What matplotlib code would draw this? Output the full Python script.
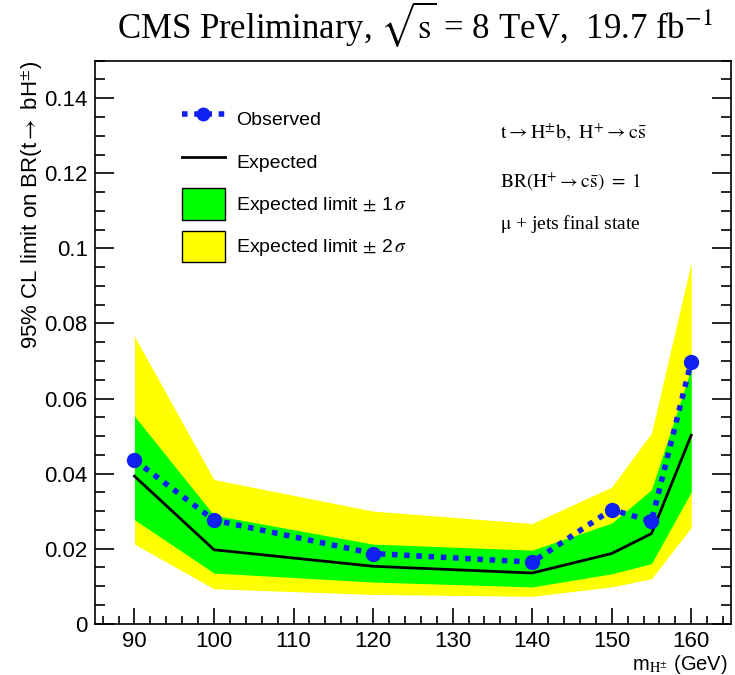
import matplotlib
matplotlib.use("Agg")
import matplotlib.pyplot as plt
from matplotlib.patches import Patch
from matplotlib.lines import Line2D
from matplotlib.ticker import MultipleLocator

plt.rcParams['mathtext.fontset'] = 'stix'

# charged Higgs mass points (GeV)
mass = [90, 100, 120, 140, 150, 155, 160]

# 95% CL upper limits on BR(t -> bH+-)
observed = [0.0436, 0.0276, 0.0187, 0.0164, 0.0304, 0.0273, 0.0698]
expected = [0.0393, 0.0197, 0.0153, 0.0135, 0.0187, 0.0240, 0.0502]
band1_lo = [0.0277, 0.0135, 0.0111, 0.0098, 0.0133, 0.0160, 0.0351]
band1_hi = [0.0553, 0.0289, 0.0212, 0.0196, 0.0268, 0.0357, 0.0680]
band2_lo = [0.0212, 0.0093, 0.0078, 0.0073, 0.0098, 0.0120, 0.0256]
band2_hi = [0.0766, 0.0384, 0.0300, 0.0267, 0.0364, 0.0508, 0.0963]

W, H = 735, 675
fig = plt.figure(figsize=(W / 100, H / 100), dpi=100)
ax = fig.add_axes([94.7 / W, 1 - 623.7 / H, (731 - 94.7) / W, (623.7 - 60.7) / H])

ax.fill_between(mass, band2_lo, band2_hi, color='#ffff00', lw=0)
ax.fill_between(mass, band1_lo, band1_hi, color='#00ff00', lw=0)
ax.plot(mass, expected, color='black', lw=2)
ax.plot(mass, observed, color='#1020f0', lw=4, ls=(0, (1, 1.2)),
        marker='o', ms=10, mec='#1020f0', mfc='#1020f0')

ax.set_xlim(85, 165)
ax.set_ylim(0, 0.15)
ax.xaxis.set_major_locator(MultipleLocator(10))
ax.xaxis.set_minor_locator(MultipleLocator(2))
ax.yaxis.set_minor_locator(MultipleLocator(0.005))
ax.set_yticks([0, 0.02, 0.04, 0.06, 0.08, 0.1, 0.12, 0.14])
ax.set_yticklabels(['0', '0.02', '0.04', '0.06', '0.08', '0.1', '0.12', '0.14'])

for sp in ax.spines.values():
    sp.set_linewidth(1.2)
ax.tick_params(axis='y', which='major', direction='in', length=14, width=1.2, right=True)
ax.tick_params(axis='y', which='minor', direction='in', length=7, width=1.2, right=True)
ax.tick_params(axis='x', which='major', direction='in', length=11.5, width=1.2, top=False)
ax.tick_params(axis='x', which='minor', direction='in', length=6, width=1.2, top=False)
ax.tick_params(axis='both', which='major', labelsize=16, pad=5)
for lab in ax.get_xticklabels() + ax.get_yticklabels():
    lab.set_fontfamily('Liberation Sans')

# titles
fig.text(415 / W, 1 - 38 / H,
         r'CMS Preliminary, $\sqrt{\mathrm{s}}$ = 8 TeV,  19.7 fb$^{\mathrm{-1}}$',
         ha='center', va='baseline', fontsize=25, family='Liberation Serif')
fig.text(32 / W, 1 - 61 / H, r'95% CL limit on BR(t$\rightarrow$ bH$^{\pm}$)',
         rotation=90, ha='center', va='top', fontsize=16, family='Liberation Sans')
fig.text(728 / W, 1 - 653 / H, r'm$_{\mathrm{H^{\pm}}}$ (GeV)',
         ha='right', va='top', fontsize=14.5, family='Liberation Sans')

# legend
handles = [
    Line2D([], [], color='#1020f0', lw=4, ls=(0, (1, 1.2)), marker='o', ms=9,
           mec='#1020f0', mfc='#1020f0'),
    Line2D([], [], color='black', lw=2),
    Patch(facecolor='#00ff00', edgecolor='black', lw=1),
    Patch(facecolor='#ffff00', edgecolor='black', lw=1),
]
labels = ['Observed', 'Expected', r'Expected limit $\pm$ 1$\,\sigma$',
          r'Expected limit $\pm$ 2$\,\sigma$']
leg = ax.legend(handles, labels, loc='upper left', bbox_to_anchor=(0.137, 0.924),
                frameon=False, borderaxespad=0, borderpad=0,
                handlelength=2.2, handleheight=2.1, labelspacing=0.57,
                handletextpad=0.6, prop={'family': 'Liberation Sans', 'size': 14})

# process text
tx = (500 - 94.7) / (731 - 94.7)
def ay(py):
    return (623.7 - py) / (623.7 - 60.7)
ax.text(tx, ay(133), r'$\mathrm{t \rightarrow H^{\pm}b,\ H^{+} \rightarrow c\bar{s}}$',
        transform=ax.transAxes, va='center', fontsize=14.5)
ax.text(tx, ay(182), r'$\mathrm{BR(H^{+} \rightarrow c\bar{s})\ =\ 1}$',
        transform=ax.transAxes, va='center', fontsize=14)
ax.text(tx, ay(224), r'$\mathrm{\mu}$ + jets final state',
        transform=ax.transAxes, va='center', fontsize=14, family='Liberation Serif')

fig.savefig('out.png', dpi=100)
